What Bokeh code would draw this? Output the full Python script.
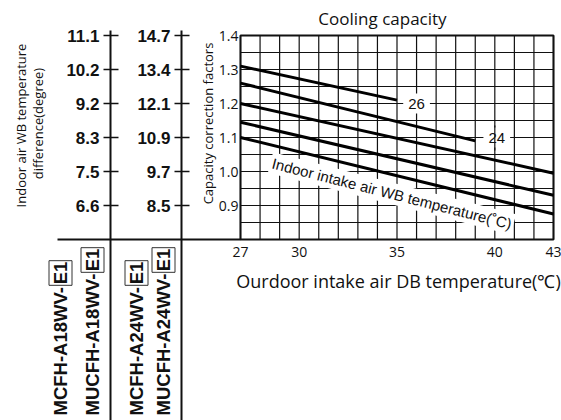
import numpy as np
from bokeh.plotting import figure
from bokeh.models import Range1d
from bokeh.core.properties import value
from bokeh.embed import file_html
from bokeh.resources import INLINE

# ---------------- data ----------------
x_ticks = [27, 30, 35, 40, 43]
x_tick_labels = ["27", "30", "35", "40", "43"]
cap_ticks = [1.4, 1.3, 1.2, 1.1, 1.0, 0.9]
cap_labels = ["1.4", "1.3", "1.2", "1.1", "1.0", "0.9"]
diff18_labels = ["11.1", "10.2", "9.2", "8.3", "7.5", "6.6"]
diff24_labels = ["14.7", "13.4", "12.1", "10.9", "9.7", "8.5"]

# capacity correction curves (outdoor DB temp -> factor)
curve_x = [[27, 35], [27, 39], [27, 43], [27, 43], [27, 43]]
curve_y = [[1.31, 1.21], [1.26, 1.09], [1.20, 0.995], [1.145, 0.93], [1.10, 0.875]]
wb_labels = ["26", "24"]
wb_label_x = [36.0, 40.1]
wb_label_y = [1.2, 1.1]

models_18 = ["MCFH-A18WV-", "MUCFH-A18WV-"]
models_24 = ["MCFH-A24WV-", "MUCFH-A24WV-"]
suffix = "E1"

title = "Cooling capacity"
x_title = "Ourdoor intake air DB temperature(\u2103)"
y_title = "Capacity correction factors"
left_title = ["Indoor air WB temperature", "difference(degree)"]
curve_title = "Indoor intake air WB temperature(\u02daC)"

# ---------------- geometry ----------------
W, H = 561, 420
XMIN, XMAX, YMIN, YMAX = 27, 43, 0.8, 1.4
FL, FR, FT, FB = 240, 553, 35, 239          # plot-frame pixel box
kx = (FR - FL) / (XMAX - XMIN)
ky = (FB - FT) / (YMAX - YMIN)
x_start = XMIN - FL / kx
x_end = XMAX + (W - FR) / kx
y_end = YMAX + FT / ky
y_start = YMIN - (H - FB) / ky


def px(v):
    return x_start + v / kx


def py(v):
    return y_end - v / ky


p = figure(width=W, height=H, x_range=Range1d(x_start, x_end), y_range=Range1d(y_start, y_end),
           x_axis_type=None, y_axis_type=None, toolbar_location=None, output_backend="svg",
           min_border=0, min_border_left=0, min_border_right=0, min_border_top=0, min_border_bottom=0)
p.outline_line_color = None
p.background_fill_color = "white"
p.border_fill_color = "white"

INK = "#111111"
SANS = value("Open Sans")
ARIAL = value("Liberation Sans")

# grid
gx = np.arange(XMIN, XMAX + 1, 1)
p.segment(x0=gx, y0=[YMIN] * len(gx), x1=gx, y1=[YMAX] * len(gx), line_color=INK, line_width=1.2)
gy = np.round(np.arange(YMIN, YMAX + 0.001, 0.05), 3)
p.segment(x0=[XMIN] * len(gy), y0=gy, x1=[XMAX] * len(gy), y1=gy, line_color=INK, line_width=1.1)

# frame
p.quad(left=[XMIN], right=[XMAX], bottom=[YMIN], top=[YMAX], fill_color=None,
       line_color=INK, line_width=2)

# bottom rule of the left panel
p.segment(x0=[px(57)], y0=[YMIN], x1=[XMIN], y1=[YMIN], line_color=INK, line_width=2)

# left difference scales
for col_px, labels in ((110, diff18_labels), (181, diff24_labels)):
    cx = px(col_px)
    p.segment(x0=[cx], y0=[py(30)], x1=[cx], y1=[py(H)], line_color=INK, line_width=2)
    p.segment(x0=[px(col_px - 7)] * len(cap_ticks), y0=cap_ticks,
              x1=[px(col_px + 8)] * len(cap_ticks), y1=cap_ticks, line_color=INK, line_width=1.5)
    p.text(x=[px(col_px - 11)] * len(labels), y=cap_ticks, text=labels, text_align="right",
           text_baseline="middle", text_font=ARIAL, text_font_style="bold",
           text_font_size="17px", text_color=INK)

# capacity factor tick labels
p.text(x=[px(238)] * len(cap_labels), y=cap_ticks, text=cap_labels, text_align="right",
       text_baseline="middle", text_font=SANS, text_font_size="14px", text_color=INK)

# x tick labels
p.text(x=x_ticks, y=[py(251)] * len(x_ticks), text=x_tick_labels, text_align="center",
       text_baseline="middle", text_font=SANS, text_font_size="14px", text_color=INK)

# titles
p.text(x=[px(398)], y=[py(280)], text=[x_title], text_align="center", text_baseline="middle",
       text_font=SANS, text_font_size="18px", text_color=INK)
p.text(x=[px(382)], y=[py(18)], text=[title], text_align="center", text_baseline="middle",
       text_font=SANS, text_font_size="17px", text_color=INK)
p.text(x=[px(207)], y=[py(123)], text=[y_title], angle=np.pi / 2, text_align="center",
       text_baseline="middle", text_font=SANS, text_font_size="13px", text_color=INK)
p.text(x=[px(20), px(37)], y=[py(125), py(123)], text=left_title, angle=np.pi / 2,
       text_align="center", text_baseline="middle", text_font=SANS, text_font_size="13px",
       text_color=INK)

# rotated curve caption (white backed, under the curves)
p.text(x=[px(270)], y=[py(162)], text=[curve_title], angle=-0.25, text_align="left",
       text_baseline="middle", text_font=ARIAL, text_font_size="15px", text_color=INK,
       background_fill_color="white", padding=2)

# curves
p.multi_line(xs=curve_x, ys=curve_y, line_color="black", line_width=3)

# WB labels on curves
p.text(x=wb_label_x, y=wb_label_y, text=wb_labels, text_align="center", text_baseline="middle",
       text_font=ARIAL, text_font_size="15px", text_color=INK,
       background_fill_color="white", padding=5)
# the 40 degree grid line runs over the "24" label
p.segment(x0=[40], y0=[py(125)], x1=[40], y1=[py(150)], line_color=INK, line_width=1.2)

# model names
model_cols = [60, 92, 136, 163]
model_names = models_18 + models_24
box_centers = [272.5, 259.5, 272.5, 259.5]
p.text(x=[px(c) for c in model_cols], y=[py(415)] * 4, text=model_names, angle=np.pi / 2,
       text_align="left", text_baseline="middle", text_font=ARIAL, text_font_style="bold",
       text_font_size="18.5px", text_color=INK)
p.text(x=[px(c) for c in model_cols], y=[py(b) for b in box_centers], text=[suffix] * 4,
       angle=np.pi / 2, text_align="center", text_baseline="middle", text_font=ARIAL,
       text_font_style="bold", text_font_size="18.5px", text_color=INK,
       border_line_color="#333333", border_line_width=1, background_fill_color="white", padding=1)

open("out.html", "w").write(file_html(p, INLINE))
